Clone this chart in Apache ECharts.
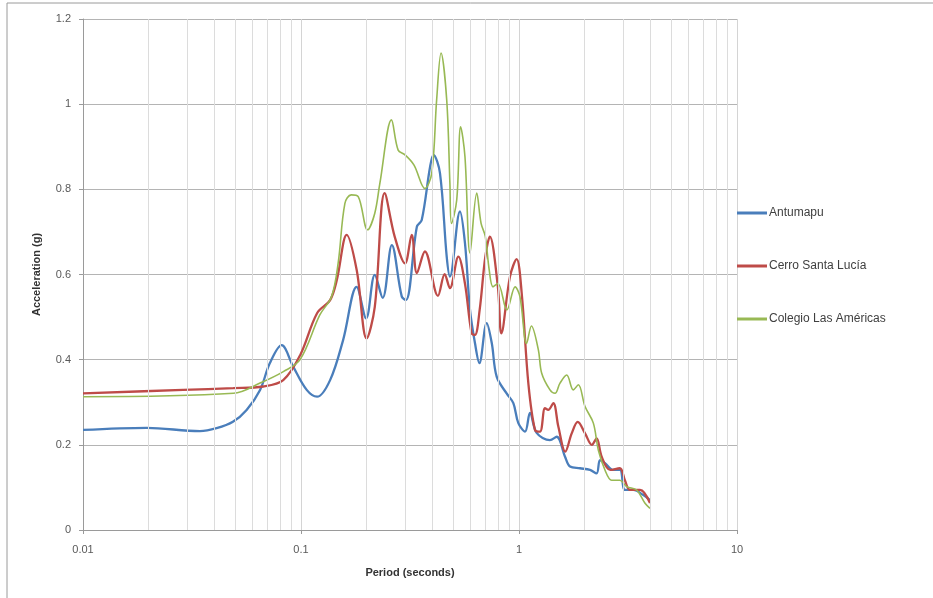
<!DOCTYPE html>
<html>
<head>
<meta charset="utf-8">
<script src="https://cdn.jsdelivr.net/npm/echarts@6/dist/echarts.min.js"></script>
<style>
	html, body { margin: 0; padding: 0; background: #fff; }
	#chart { width: 933px; height: 598px; }
</style>
</head>
<body>
<div id="chart"></div>
<script>
// series names
var seriesNames = ['Antumapu', 'Cerro Santa Lucía', 'Colegio Las Américas'];

// Antumapu: period (s) / acceleration (g)
var antT = [0.01, 0.0196, 0.0344, 0.041, 0.0487, 0.0563, 0.0649, 0.072, 0.0815, 0.0922, 0.1062, 0.1185, 0.136, 0.156, 0.18, 0.199, 0.218, 0.237, 0.261, 0.29, 0.303, 0.34, 0.358, 0.391, 0.405, 0.434, 0.466, 0.482, 0.536, 0.565, 0.596, 0.628, 0.658, 0.711, 0.75, 0.79, 0.879, 0.942, 0.993, 1.066, 1.123, 1.205, 1.387, 1.489, 1.626, 1.714, 1.905, 2.117, 2.27, 2.353, 2.479, 2.709, 2.905, 3.063, 3.345, 3.718, 3.99];
var antA = [0.235, 0.240, 0.232, 0.239, 0.254, 0.282, 0.329, 0.392, 0.434, 0.383, 0.329, 0.313, 0.352, 0.446, 0.571, 0.497, 0.599, 0.545, 0.669, 0.548, 0.540, 0.712, 0.728, 0.853, 0.881, 0.838, 0.642, 0.595, 0.748, 0.674, 0.517, 0.439, 0.392, 0.486, 0.439, 0.360, 0.320, 0.298, 0.251, 0.231, 0.275, 0.228, 0.211, 0.219, 0.172, 0.149, 0.145, 0.141, 0.133, 0.164, 0.157, 0.141, 0.141, 0.094, 0.094, 0.082, 0.070];

// Cerro Santa Lucía
var cslT = [0.01, 0.0288, 0.0489, 0.0671, 0.0829, 0.099, 0.1185, 0.136, 0.146, 0.162, 0.18, 0.2, 0.218, 0.242, 0.269, 0.3, 0.322, 0.34, 0.37, 0.425, 0.456, 0.482, 0.527, 0.565, 0.606, 0.628, 0.66, 0.7, 0.735, 0.8, 0.83, 0.909, 0.975, 1.029, 1.104, 1.184, 1.248, 1.316, 1.362, 1.437, 1.515, 1.63, 1.745, 1.86, 2.009, 2.16, 2.27, 2.395, 2.62, 2.9, 3.06, 3.23, 3.59, 3.99];
var cslA = [0.321, 0.329, 0.333, 0.337, 0.352, 0.41, 0.509, 0.540, 0.587, 0.693, 0.611, 0.450, 0.524, 0.791, 0.689, 0.626, 0.693, 0.603, 0.654, 0.550, 0.601, 0.568, 0.642, 0.579, 0.462, 0.458, 0.517, 0.640, 0.689, 0.571, 0.462, 0.595, 0.636, 0.556, 0.344, 0.235, 0.231, 0.286, 0.282, 0.298, 0.243, 0.184, 0.227, 0.254, 0.227, 0.200, 0.215, 0.172, 0.141, 0.145, 0.117, 0.094, 0.094, 0.063];

// Colegio Las Américas
var claT = [0.01, 0.049, 0.0649, 0.083, 0.099, 0.122, 0.138, 0.148, 0.159, 0.17, 0.183, 0.202, 0.218, 0.23, 0.26, 0.279, 0.3, 0.33, 0.37, 0.398, 0.419, 0.439, 0.466, 0.482, 0.49, 0.518, 0.54, 0.565, 0.596, 0.64, 0.67, 0.7, 0.73, 0.76, 0.8, 0.88, 0.96, 1.01, 1.084, 1.14, 1.227, 1.271, 1.387, 1.463, 1.542, 1.655, 1.775, 1.871, 2.009, 2.193, 2.311, 2.479, 2.661, 2.905, 3.118, 3.465, 3.785, 3.99];
var claA = [0.313, 0.321, 0.345, 0.372, 0.400, 0.505, 0.548, 0.626, 0.767, 0.787, 0.783, 0.705, 0.744, 0.814, 0.963, 0.892, 0.881, 0.857, 0.802, 0.838, 1.01, 1.12, 1.01, 0.814, 0.720, 0.775, 0.947, 0.877, 0.650, 0.791, 0.720, 0.690, 0.611, 0.571, 0.579, 0.517, 0.571, 0.548, 0.438, 0.479, 0.423, 0.368, 0.329, 0.321, 0.345, 0.364, 0.329, 0.341, 0.290, 0.251, 0.188, 0.141, 0.117, 0.117, 0.102, 0.094, 0.063, 0.051];

// minor log gridlines (2..9 per decade)
var minorTicks = [0.02, 0.03, 0.04, 0.05, 0.06, 0.07, 0.08, 0.09,
	0.2, 0.3, 0.4, 0.5, 0.6, 0.7, 0.8, 0.9,
	2, 3, 4, 5, 6, 7, 8, 9];

var zip = function (xs, ys) {
	var out = [];
	for (var i = 0; i < xs.length; i++) {
		out.push([xs[i], ys[i]]);
	}
	return out;
};

var fontFamily = '"Liberation Sans", Arial, sans-serif';

var lineSeries = function (name, data, color, width) {
	return {
		name: name,
		type: 'line',
		data: data,
		smooth: 0.35,
		symbol: 'none',
		z: 3,
		lineStyle: { color: color, width: width },
		itemStyle: { color: color }
	};
};

var chart = echarts.init(document.getElementById('chart'), null, { renderer: 'canvas' });

chart.setOption({
	animation: false,
	backgroundColor: '#fff',
	textStyle: { fontFamily: fontFamily },
	graphic: [
		{
			type: 'rect',
			shape: { x: 7, y: 3, width: 1000, height: 1000 },
			style: { fill: 'none', stroke: '#9a9a9a', lineWidth: 1 },
			silent: true
		}
	],
	grid: { left: 83, right: 196, top: 19, bottom: 68, containLabel: false },
	legend: {
		orient: 'vertical',
		left: 737,
		top: 207,
		padding: 0,
		icon: 'rect',
		itemWidth: 30,
		itemHeight: 3,
		itemGap: 41,
		data: seriesNames,
		textStyle: { fontSize: 12, color: '#404040', fontFamily: fontFamily, padding: [0, 0, 0, -3] }
	},
	xAxis: {
		type: 'log',
		logBase: 10,
		min: 0.01,
		max: 10,
		name: 'Period (seconds)',
		nameLocation: 'middle',
		nameGap: 37,
		nameTextStyle: { fontWeight: 'bold', fontSize: 11, color: '#333' },
		axisLine: { lineStyle: { color: '#9a9a9a' } },
		axisTick: { show: true, length: 4, lineStyle: { color: '#9a9a9a' } },
		axisLabel: {
			fontSize: 11,
			color: '#595959',
			margin: 14,
			formatter: function (v) { return String(+v.toPrecision(3)); }
		},
		splitLine: { show: true, lineStyle: { color: '#d4d4d4' } }
	},
	yAxis: {
		type: 'value',
		min: 0,
		max: 1.2,
		interval: 0.2,
		name: 'Acceleration (g)',
		nameLocation: 'middle',
		nameRotate: 90,
		nameGap: 41,
		nameTextStyle: { fontWeight: 'bold', fontSize: 11, color: '#333' },
		axisLine: { show: true, lineStyle: { color: '#9a9a9a' } },
		axisTick: { show: true, length: 4, lineStyle: { color: '#9a9a9a' } },
		axisLabel: {
			fontSize: 11,
			color: '#595959',
			margin: 12,
			formatter: function (v) { return String(+v.toFixed(1)); }
		},
		splitLine: { show: true, lineStyle: { color: '#b4b4b4' } }
	},
	series: [
		{
			name: 'minor',
			type: 'line',
			data: [],
			silent: true,
			z: 1,
			markLine: {
				silent: true,
				symbol: ['none', 'none'],
				label: { show: false },
				lineStyle: { color: '#dcdcdc', width: 1, type: 'solid' },
				emphasis: { disabled: true },
				data: minorTicks.map(function (t) { return { xAxis: t }; })
			}
		},
		lineSeries(seriesNames[0], zip(antT, antA), '#4a7ebb', 2.3),
		lineSeries(seriesNames[1], zip(cslT, cslA), '#be4b48', 2.3),
		lineSeries(seriesNames[2], zip(claT, claA), '#98b954', 1.6)
	]
});
</script>
</body>
</html>
